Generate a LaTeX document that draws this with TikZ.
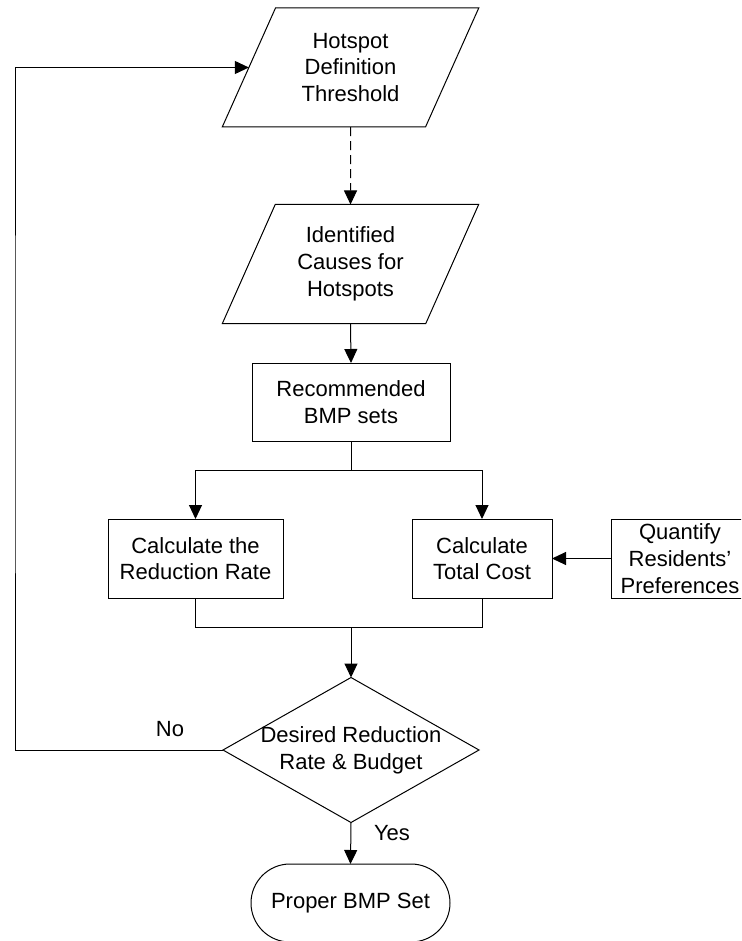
\documentclass[tikz,border=0pt]{standalone}
\usepackage{fontspec}
\setmainfont{Liberation Sans}
\usetikzlibrary{shapes.geometric,shapes.misc,arrows.meta}
\begin{document}
\begin{tikzpicture}[x=1pt,y=-1pt,line width=1pt,
  >={Triangle[width=13pt,length=14pt]},
  base/.style={draw,inner sep=0pt,outer sep=0pt,align=center,font=\fontsize{22}{26.7}\selectfont},
  io/.style={base,trapezium,trapezium left angle=63.2,trapezium right angle=116.8,
             trapezium stretches=true,minimum width=257pt,minimum height=119pt},
  proc/.style={base,rectangle},
  term/.style={base,rounded rectangle,minimum width=199pt,minimum height=78pt},
  decision/.style={draw,diamond,inner sep=0pt,outer sep=0pt,minimum width=256pt,minimum height=145pt},
  txt/.style={inner sep=0pt,align=center,font=\fontsize{22}{26.7}\selectfont},
  dashline/.style={dash pattern=on 9pt off 5pt}]
\clip (0,0) rectangle (741,941);
\node[io] (hdt) at (350.5,67.5) {Hotspot\\Definition\\Threshold};
\node[io] (ich) at (350.5,264) {Identified\\Causes for\\Hotspots};
\node[proc,minimum width=198pt,minimum height=78pt] (rbs) at (351,402) {Recommended\\BMP sets};
\node[proc,minimum width=175pt,minimum height=79pt] (crr) at (195.5,558.5) {Calculate the\\Reduction Rate};
\node[proc,minimum width=140pt,minimum height=79pt] (ctc) at (482,558.5) {Calculate\\Total Cost};
\node[proc,minimum width=138pt,minimum height=79pt] (qrp) at (680,558.5) {Quantify\\Residents'\\Preferences};
\node[decision] (dec) at (351,750) {};
\node[txt] (dect) at (dec.center) {Desired Reduction\\Rate \& Budget};
\node[term] (pbs) at (350.5,903) {Proper BMP Set};
\node[txt] (no) at (170,729) {No};
\node[txt] (yes) at (392,833) {Yes};
\coordinate (loop) at (15,400);
\coordinate (split) at (351,470);
\coordinate (join) at (351,627);
\draw[->,dashline] (hdt.south) -- (ich.north);
\draw[->] (ich.south) -- (rbs.north);
\draw (rbs.south) -- (split);
\draw[->] (split) -| (crr.north);
\draw[->] (split) -| (ctc.north);
\draw (crr.south) |- (join);
\draw (ctc.south) |- (join);
\draw[->] (join) -- (dec.north);
\draw[->] (qrp.west) -- (ctc.east);
\draw[->] (dec.south) -- (pbs.north);
\draw[->] (dec.west) -| (loop) |- (hdt.west);
\end{tikzpicture}
\end{document}
